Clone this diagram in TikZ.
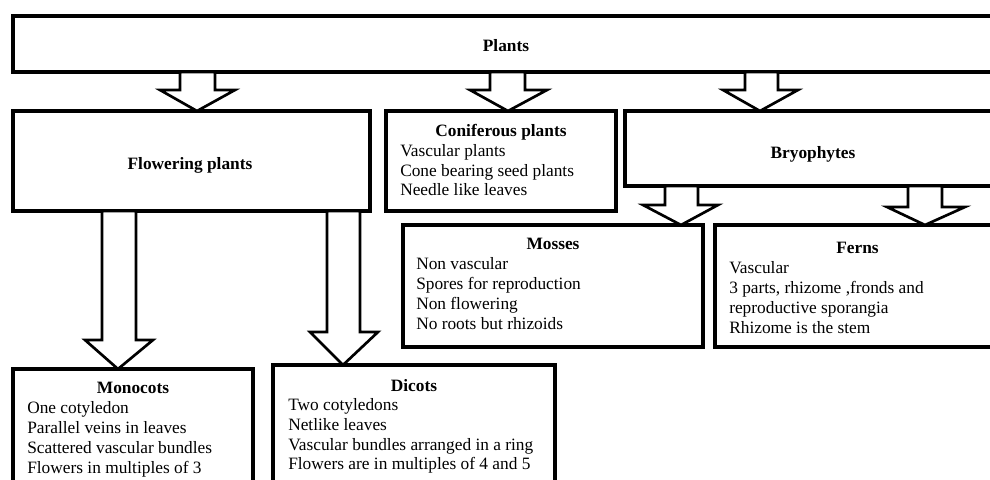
\documentclass[tikz,border=0pt]{standalone}
\usepackage{fontspec}
\setmainfont{Liberation Serif}
\newlength\pxu
\setlength\pxu{0.75pt}
\tikzset{
  box/.style={draw, line width=2.6pt, outer sep=0pt, inner sep=0pt},
  blk/.style={draw, line width=2pt, fill=white, line join=miter},
  ttl/.style={font=\fontsize{13}{15}\selectfont\bfseries, inner sep=0pt, text height=12pt, text depth=3pt},
  ln/.style={font=\fontsize{13}{15}\selectfont, anchor=west, inner sep=0pt, text height=12pt, text depth=3pt}
}
% #1 source, #2 target, #3/#4 shaft left/right, #5/#6 wing left/right, #7 head base y, #8 tip x
\newcommand\blockarr[8]{%
  \draw[blk] (#3,0 |- #1.south) -- (#3,#7) -- (#5,#7) -- (#8,0 |- #2.north)
     -- (#6,#7) -- (#4,#7) -- (#4,0 |- #1.south) -- cycle;}
\begin{document}
\begin{tikzpicture}[x=0.75pt,y=-0.75pt]
\useasboundingbox (0,0) rectangle (990,479);
\clip (0,0) rectangle (990,479);
\fill[white] (0,0) rectangle (990,479);

% boxes
\node[box, minimum width=987\pxu, minimum height=56\pxu] (plants) at (506.5,44) {};
\node[box, minimum width=357\pxu, minimum height=100\pxu] (flow) at (191.5,161) {};
\node[box, minimum width=230\pxu, minimum height=100\pxu] (conif) at (501,161) {};
\node[box, minimum width=375\pxu, minimum height=75\pxu] (bryo) at (812.5,148.5) {};
\node[box, minimum width=300\pxu, minimum height=122\pxu] (moss) at (553,286) {};
\node[box, minimum width=285\pxu, minimum height=122\pxu] (ferns) at (857.5,286) {};
\node[box, minimum width=240\pxu, minimum height=126\pxu] (mono) at (133,432) {};
\node[box, minimum width=282\pxu, minimum height=130\pxu] (dicot) at (414,430) {};

% block arrows
\blockarr{plants}{flow}{180}{215}{160}{235}{90}{197}
\blockarr{plants}{conif}{490}{525}{470}{547}{90}{508}
\blockarr{plants}{bryo}{745}{778}{723}{798}{90}{760}
\blockarr{bryo}{moss}{665}{698}{643}{718}{205}{681}
\blockarr{bryo}{ferns}{908}{942}{887}{965}{207}{925}
\blockarr{flow}{mono}{102}{136}{85}{153}{340}{118}
\blockarr{flow}{dicot}{327}{360}{310}{378}{332}{343}

% texts
\node[ttl] (plantsT) at (506,45) {Plants};
\node[ttl] (flowT) at (190,163) {Flowering plants};
\node[ttl] (bryoT) at (813,152) {Bryophytes};

\node[ttl] (conifT) at (501,130) {Coniferous plants};
\node[ln] (c1) at (400,150) {Vascular plants};
\node[ln] (c2) at (400,170) {Cone bearing seed plants};
\node[ln] (c3) at (400,189) {Needle like leaves};

\node[ttl] (mossT) at (553,243) {Mosses};
\node[ln] (m1) at (416,263) {Non vascular};
\node[ln] (m2) at (416,283) {Spores for reproduction};
\node[ln] (m3) at (416,303) {Non flowering};
\node[ln] (m4) at (416,323) {No roots but rhizoids};

\node[ttl] (fernsT) at (857.5,247) {Ferns};
\node[ln] (f1) at (729,267) {Vascular};
\node[ln] (f2) at (729,287) {3 parts, rhizome ,fronds and};
\node[ln] (f3) at (729,307) {reproductive sporangia};
\node[ln] (f4) at (729,327) {Rhizome is the stem};

\node[ttl] (monoT) at (133,387) {Monocots};
\node[ln] (o1) at (27,407) {One cotyledon};
\node[ln] (o2) at (27,427) {Parallel veins in leaves};
\node[ln] (o3) at (27,447) {Scattered vascular bundles};
\node[ln] (o4) at (27,467) {Flowers in multiples of 3};

\node[ttl] (dicotT) at (414,385) {Dicots};
\node[ln] (d1) at (288,404) {Two cotyledons};
\node[ln] (d2) at (288,424) {Netlike leaves};
\node[ln] (d3) at (288,444) {Vascular bundles arranged in a ring};
\node[ln] (d4) at (288,463) {Flowers are in multiples of 4 and 5};
\end{tikzpicture}
\end{document}
